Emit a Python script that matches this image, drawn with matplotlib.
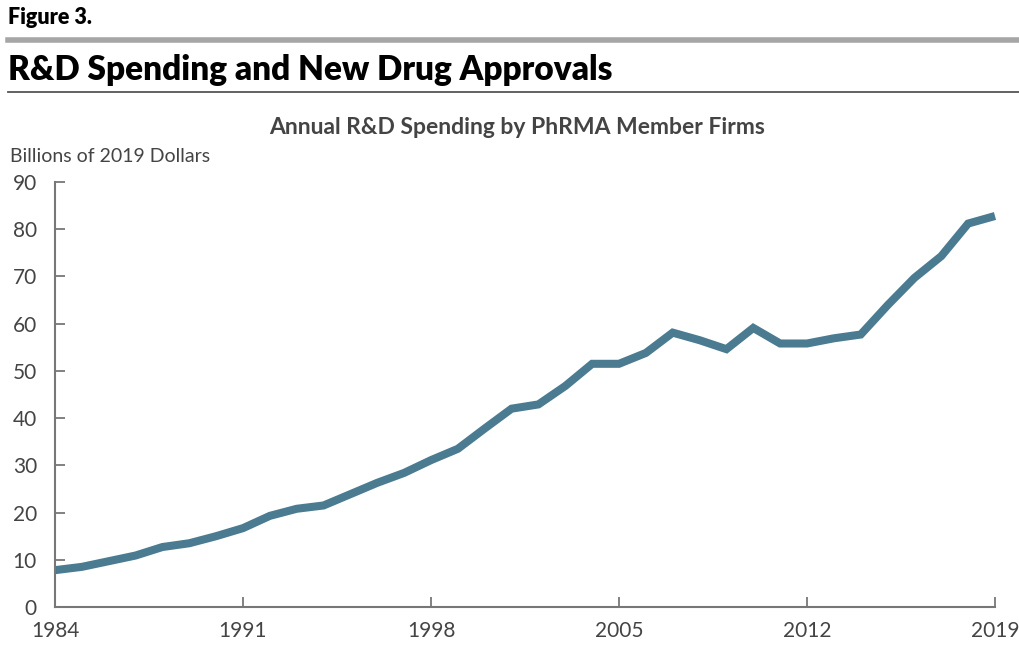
import matplotlib

matplotlib.use("Agg")
import matplotlib.pyplot as plt
from matplotlib import font_manager
from matplotlib.lines import Line2D

years = list(range(1984, 2020))
spending = [7.8, 8.5, 9.7, 10.9, 12.7, 13.5, 15.0, 16.7, 19.3, 20.8,
            21.5, 23.9, 26.3, 28.4, 31.1, 33.5, 37.8, 42.0, 42.9, 46.8,
            51.5, 51.5, 53.8, 58.1, 56.5, 54.6, 59.1, 55.8, 55.8, 56.9,
            57.7, 63.9, 69.7, 74.3, 81.2, 82.8]
xticks = [1984, 1991, 1998, 2005, 2012, 2019]
yticks = list(range(0, 100, 10))

names = {f.name for f in font_manager.fontManager.ttflist}
base = "Lato" if "Lato" in names else "DejaVu Sans"
plt.rcParams["font.family"] = base

fig = plt.figure(figsize=(10.2, 6.6), dpi=100)
ax = fig.add_axes([55 / 1020, 1 - 607 / 660, 940 / 1020, 425 / 660])

ax.plot(years, spending, color="#4A7B91", lw=5.8, solid_joinstyle="miter",
        solid_capstyle="butt", clip_on=False)
ax.set_xlim(1984, 2019)
ax.set_ylim(0, 90)
ax.set_xticks(xticks)
ax.set_yticks(yticks)
ax.tick_params(direction="in", colors="#777777", labelcolor="#444444",
               labelsize=15, length=7, width=1.3)
ax.tick_params(axis="y", pad=13)
ax.tick_params(axis="x", pad=10)
for s in ("top", "right"):
    ax.spines[s].set_visible(False)
for s in ("left", "bottom"):
    ax.spines[s].set_color("#777777")
    ax.spines[s].set_linewidth(1.5)

# header
fig.text(8 / 1020, 1 - 18 / 660, "Figure 3.", fontsize=15.5, fontweight="heavy",
         va="center", ha="left", color="black")
fig.add_artist(Line2D([8 / 1020, 1], [1 - 40 / 660] * 2, color="#A6A6A6", lw=4))
fig.text(8 / 1020, 1 - 70 / 660, "R&D Spending and New Drug Approvals",
         fontsize=24, fontweight="heavy", va="center", ha="left",
         color="black")
fig.add_artist(Line2D([8 / 1020, 1], [1 - 92 / 660] * 2, color="#555555", lw=1.3))
fig.text(517 / 1020, 1 - 127 / 660, "Annual R&D Spending by PhRMA Member Firms",
         fontsize=16.5, fontweight="bold", va="center", ha="center", color="#444444")
fig.text(10 / 1020, 1 - 156 / 660, "Billions of 2019 Dollars", fontsize=14,
         va="center", ha="left", color="#444444")

fig.savefig("out.png", dpi=100)
